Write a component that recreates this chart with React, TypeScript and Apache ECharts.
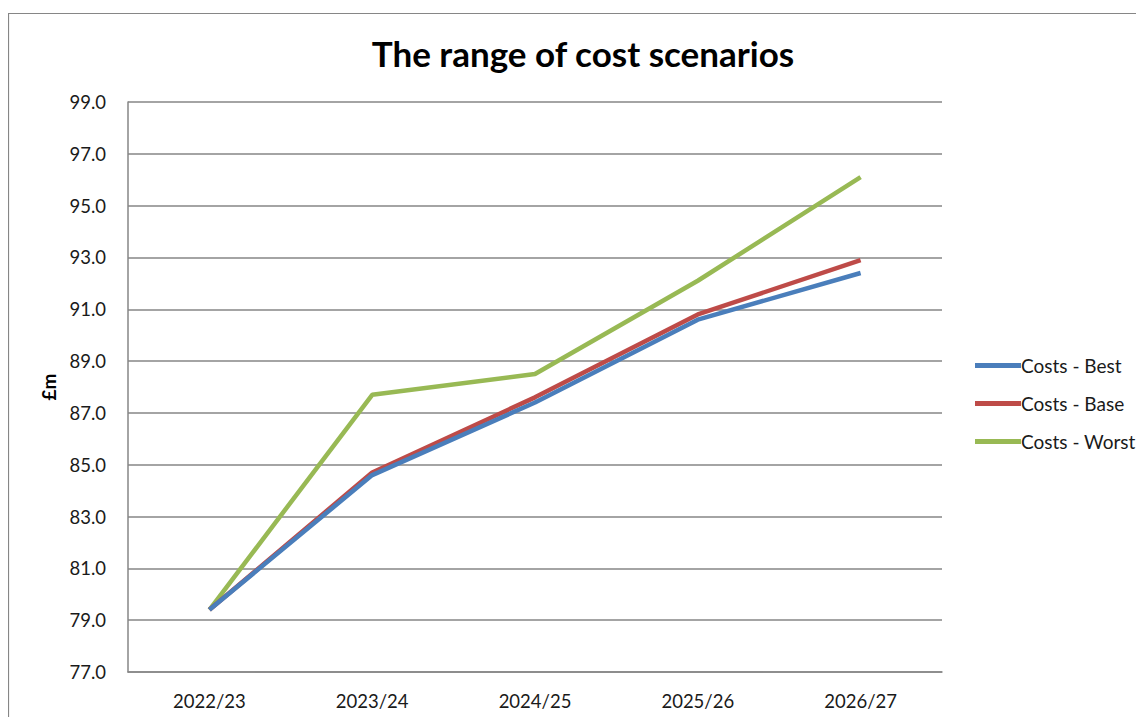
import React, { useEffect, useRef } from "react";
import * as echarts from "echarts";

const categories = ["2022/23", "2023/24", "2024/25", "2025/26", "2026/27"];
const costsBest = [79.4, 84.6, 87.4, 90.6, 92.4];
const costsBase = [79.4, 84.7, 87.6, 90.8, 92.9];
const costsWorst = [79.4, 87.7, 88.5, 92.1, 96.1];
const seriesNames = ["Costs - Best", "Costs - Base", "Costs - Worst"];
const colors = ["#4a7ebb", "#be4b48", "#98b954"];

const FONT = "Lato, 'Open Sans', sans-serif";

export default function App() {
  const ref = useRef<HTMLDivElement>(null);
  useEffect(() => {
    if (!ref.current) return;
    const chart = echarts.init(ref.current, null, { renderer: "svg" });
    const data = [costsBest, costsBase, costsWorst];
    chart.setOption({
      animation: false,
      backgroundColor: "#ffffff",
      graphic: [
        {
          type: "rect",
          shape: { x: 0.5, y: 5.5, width: 1134, height: 720 },
          style: { fill: "none", stroke: "#868686", lineWidth: 1.2 },
          silent: true,
        },
        {
          type: "text",
          x: 575,
          y: 45,
          style: {
            text: "The range of cost scenarios",
            font: `bold 35px ${FONT}`,
            fill: "#000000",
            textAlign: "center",
            textVerticalAlign: "middle",
          },
        },
      ],
      grid: { left: 120, top: 94, width: 814, height: 570 },
      legend: {
        orient: "vertical",
        left: 962,
        top: 343,
        itemWidth: 46,
        itemHeight: 5,
        itemGap: 19,
        icon: "rect",
        data: seriesNames,
        textStyle: { fontFamily: FONT, fontSize: 19, color: "#1a1a1a", padding: [0, 0, 0, -5] },
      },
      xAxis: {
        type: "category",
        data: categories,
        boundaryGap: true,
        axisLine: { lineStyle: { color: "#868686", width: 1.5 } },
        axisTick: { show: false },
        axisLabel: { fontFamily: FONT, fontSize: 18.5, color: "#1a1a1a", margin: 19 },
      },
      yAxis: {
        type: "value",
        min: 77,
        max: 99,
        interval: 2,
        name: "£m",
        nameLocation: "middle",
        nameGap: 70,
        nameRotate: 90,
        nameTextStyle: { fontFamily: FONT, fontSize: 19, fontWeight: "bold", color: "#000" },
        axisLine: { show: true, lineStyle: { color: "#868686", width: 1.5 } },
        axisTick: { show: false },
        splitLine: { lineStyle: { color: "#868686", width: 1.5 } },
        axisLabel: {
          fontFamily: FONT,
          fontSize: 18.5,
          color: "#1a1a1a",
          margin: 22,
          formatter: (v: number) => v.toFixed(1),
        },
      },
      series: seriesNames.map((name, i) => ({
        name,
        type: "line",
        data: data[i],
        symbol: "none",
        itemStyle: { color: colors[i] },
        lineStyle: { color: colors[i], width: 4.5 },
        z: 3 - i + 2,
      })),
    });
    return () => chart.dispose();
  }, []);
  return <div ref={ref} style={{ width: 1136, height: 709 }} />;
}
